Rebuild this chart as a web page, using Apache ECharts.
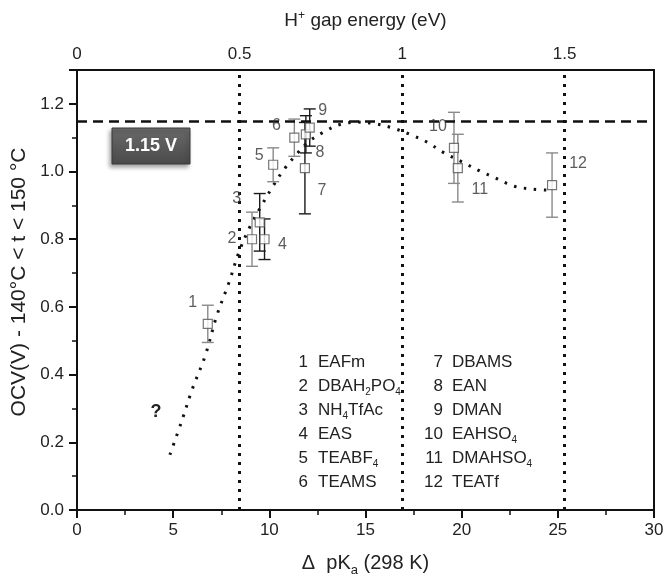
<!DOCTYPE html>
<html><head><meta charset="utf-8">
<script src="https://cdn.jsdelivr.net/npm/echarts@6/dist/echarts.min.js"></script>
<style>html,body{margin:0;padding:0;background:#fff}#c{width:672px;height:582px}</style>
</head><body><div id="c"></div>
<script>
// ---------- data ----------
const ids      = ['1','2','3','4','5','6','7','8','9','10','11','12'];
const pka      = [6.8, 9.1, 9.5, 9.75, 10.2, 11.3, 11.85, 11.9, 12.1, 19.6, 19.8, 24.7];
const ocv      = [0.55, 0.80, 0.85, 0.80, 1.02, 1.10, 1.01, 1.11, 1.13, 1.07, 1.01, 0.96];
const ocvErr   = [0.055, 0.08, 0.085, 0.06, 0.05, 0.055, 0.135, 0.055, 0.055, 0.105, 0.10, 0.095];
const barTone  = ['gray','gray','black','black','gray','gray','black','black','black','gray','gray','gray'];
const curvePka = [4.83, 5.44, 6.0, 6.66, 7.26, 7.9, 8.44, 9.0, 9.6, 10.18, 10.76, 11.46, 12.03, 12.84, 13.68, 14.6, 15.5, 16.4, 17.3, 18.2, 19.0, 20.0, 21.0, 21.8, 22.7, 23.7, 24.5];
const curveOcv = [0.163, 0.262, 0.358, 0.455, 0.573, 0.672, 0.765, 0.838, 0.900, 0.956, 1.006, 1.054, 1.088, 1.117, 1.139, 1.146, 1.141, 1.129, 1.110, 1.087, 1.058, 1.029, 1.000, 0.980, 0.957, 0.948, 0.945];
const refVoltage = 1.153;
const refLabel = '1.15 V';
const gapEnergies = [0.5, 1.0, 1.5];   // eV
const evPerPka = 0.05916;
const legendCol1 = [['1','EAFm'],['2','DBAH{s|2}PO{s|4}'],['3','NH{s|4}TfAc'],['4','EAS'],['5','TEABF{s|4}'],['6','TEAMS']];
const legendCol2 = [['7','DBAMS'],['8','EAN'],['9','DMAN'],['10','EAHSO{s|4}'],['11','DMAHSO{s|4}'],['12','TEATf']];

// ---------- layout / style ----------
const labelOffsets = [[-15,-21],[-20,-1],[-23,-24],[18,5],[-14,-9],[-18,-12],[17,22],[14,18],[13,-17],[-16,-21],[22,21],[26,-21]];
const FONT = '"Liberation Sans", Arial, sans-serif';
const TXT = '#222';
const toneColor = {gray:'#8a8a8a', black:'#1a1a1a'};

const chart = echarts.init(document.getElementById('c'), null, {renderer:'canvas'});

const errData = pka.map((x,i)=>[x, ocv[i], ocvErr[i], i]);
const ptData = pka.map((x,i)=>({value:[x, ocv[i]], name: ids[i], label:{offset: labelOffsets[i]}}));

const legendGraphics = [];
const rowY0 = 362, rowStep = 24;
function addCol(items, numRight, nameLeft){
  items.forEach((it,i)=>{
    const y = rowY0 + i*rowStep;
    legendGraphics.push({type:'text', x:numRight, y:y, style:{text:it[0], fill:TXT, font:'17px '+FONT, textAlign:'right', textVerticalAlign:'middle'}});
    legendGraphics.push({type:'text', x:nameLeft, y:y, style:{text:it[1], fill:TXT, font:'17px '+FONT, textAlign:'left', textVerticalAlign:'middle',
      rich:{s:{fontSize:10, fontFamily:FONT, fill:TXT, verticalAlign:'bottom', padding:[12,0,0,0]}}}});
  });
}
addCol(legendCol1, 308, 318);
addCol(legendCol2, 443, 452);

const option = {
  animation:false,
  backgroundColor:'#fff',
  grid:{left:77, right:18, top:70, bottom:65, containLabel:false},
  xAxis:[
    {type:'value', position:'bottom', min:0, max:30, interval:5,
     axisLine:{show:true, onZero:false, lineStyle:{color:'#111', width:2}},
     axisTick:{show:true, inside:false, length:8, lineStyle:{color:'#111', width:2}},
     minorTick:{show:true, splitNumber:2, length:5, lineStyle:{color:'#111', width:1.5}},
     splitLine:{show:false},
     axisLabel:{color:TXT, fontSize:17, fontFamily:FONT, margin:12},
     name:'Δ  pK{s|a} (298 K)', nameLocation:'middle', nameGap:40,
     nameTextStyle:{color:TXT, fontSize:20, fontFamily:FONT, rich:{s:{fontSize:13, fontFamily:FONT, color:TXT, verticalAlign:'bottom', padding:[14,0,0,0]}}}
    },
    {type:'value', position:'top', min:0, max:30*evPerPka, interval:0.5,
     axisLine:{show:true, onZero:false, lineStyle:{color:'#111', width:2}},
     axisTick:{show:false}, splitLine:{show:false},
     axisLabel:{color:TXT, fontSize:17, fontFamily:FONT, margin:7, showMaxLabel:false,
       formatter:v=>String(+v.toFixed(2))},
     name:'H{p|+} gap energy (eV)', nameLocation:'middle', nameGap:38,
     nameTextStyle:{color:TXT, fontSize:19, fontFamily:FONT, rich:{p:{fontSize:12, fontFamily:FONT, color:TXT, verticalAlign:'top', padding:[0,0,10,0]}}}
    }
  ],
  yAxis:[
    {type:'value', position:'left', min:0, max:1.3, interval:0.2,
     axisLine:{show:true, onZero:false, lineStyle:{color:'#111', width:2}},
     axisTick:{show:true, inside:false, length:8, lineStyle:{color:'#111', width:2}},
     minorTick:{show:true, splitNumber:2, length:5, lineStyle:{color:'#111', width:1.5}},
     splitLine:{show:false},
     axisLabel:{color:TXT, fontSize:17, fontFamily:FONT, margin:13, showMaxLabel:false, formatter:v=>v.toFixed(1)},
     name:'OCV(V) - 140°C < t < 150 °C', nameLocation:'middle', nameGap:47, nameRotate:90,
     nameTextStyle:{color:TXT, fontSize:21, fontFamily:FONT, padding:[0,0,0,16]}
    },
    {type:'value', position:'right', min:0, max:1.3,
     axisLine:{show:true, onZero:false, lineStyle:{color:'#111', width:2}},
     axisTick:{show:false}, axisLabel:{show:false}, splitLine:{show:false}}
  ],
  series:[
    {type:'line', xAxisIndex:1, yAxisIndex:0, data:[], symbol:'none', silent:true,
     markLine:{symbol:'none', silent:true, label:{show:false},
       lineStyle:{color:'#111', type:[3,6], width:3},
       data: gapEnergies.map(e=>({xAxis:e}))}},
    {type:'line', xAxisIndex:0, yAxisIndex:0, data:[], symbol:'none', silent:true,
     markLine:{symbol:'none', silent:true, label:{show:false},
       lineStyle:{color:'#111', type:[10,6], width:2.5},
       data:[{yAxis:refVoltage}]}},
    {type:'line', data: curvePka.map((x,i)=>[x, curveOcv[i]]), symbol:'none', smooth:0.35,
     lineStyle:{color:'#111', width:3, type:[2.5,7.5], cap:'butt'}, z:3},
    {type:'custom', z:4, data: errData,
     renderItem:(params, api)=>{
       const x = api.value(0), y = api.value(1), e = api.value(2), i = api.value(3);
       const top = api.coord([x, y+e]), bot = api.coord([x, y-e]);
       const c = toneColor[barTone[i]];
       const w = 6;
       const st = {stroke:c, lineWidth:1.4};
       return {type:'group', children:[
         {type:'line', shape:{x1:top[0], y1:top[1], x2:bot[0], y2:bot[1]}, style:st},
         {type:'line', shape:{x1:top[0]-w, y1:top[1], x2:top[0]+w, y2:top[1]}, style:st},
         {type:'line', shape:{x1:bot[0]-w, y1:bot[1], x2:bot[0]+w, y2:bot[1]}, style:st}
       ]};
     }},
    {type:'scatter', z:5, data: ptData, symbol:'rect', symbolSize:9,
     itemStyle:{color:'#fff', borderColor:'#555', borderWidth:1.2},
     label:{show:true, position:'inside', formatter:p=>p.name, color:'#333', fontSize:16, fontFamily:FONT}}
  ],
  graphic:[
    {type:'rect', shape:{x:112, y:128, width:78, height:36},
     style:{fill:new echarts.graphic.LinearGradient(0,0,0,1,[{offset:0,color:'#6a6a6a'},{offset:1,color:'#4a4a4a'}]),
       stroke:'#3a3a3a', lineWidth:1, shadowBlur:4, shadowOffsetX:-2, shadowOffsetY:3, shadowColor:'rgba(0,0,0,0.35)'}, z:10},
    {type:'text', x:151, y:146, z:11, style:{text:refLabel, fill:'#fff', font:'bold 18px '+FONT, textAlign:'center', textVerticalAlign:'middle'}},
    {type:'text', x:156, y:412, z:11, style:{text:'?', fill:'#222', font:'bold 18px '+FONT, textAlign:'center', textVerticalAlign:'middle'}}
  ].concat(legendGraphics)
};
chart.setOption(option);
</script></body></html>
